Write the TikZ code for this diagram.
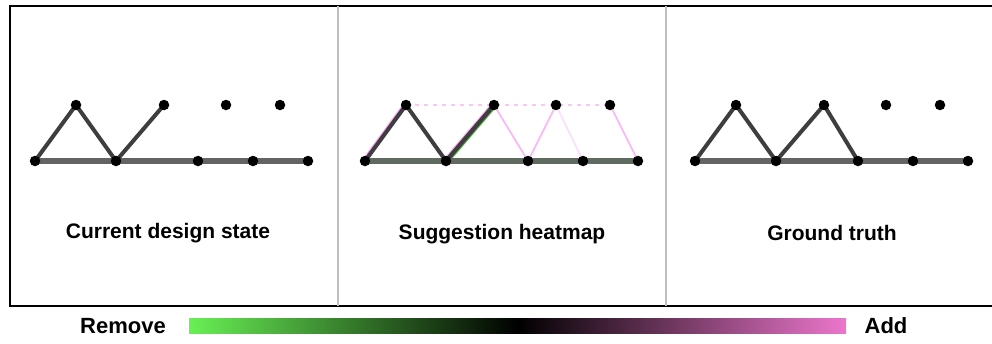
\documentclass[tikz,border=0pt]{standalone}
\usepackage{fontspec}
\setmainfont{Liberation Sans}
\definecolor{gGreen}{RGB}{105,240,85}
\definecolor{gPink}{RGB}{236,118,204}
\definecolor{faintPink}{RGB}{248,185,244}
\definecolor{edgeGray}{RGB}{62,62,62}
\definecolor{baseGray}{RGB}{100,100,100}
\begin{document}
\begin{tikzpicture}[x=1pt,y=-1pt,
  dot/.style={circle,fill=black,inner sep=0pt,minimum size=10.5pt},
  baseedge/.style={line width=5.5pt,draw=baseGray},
  diagedge/.style={line width=4pt,draw=edgeGray},
  addedge/.style={line width=1.8pt,draw=faintPink},
  addtop/.style={line width=1.8pt,draw=faintPink!80,dash pattern=on 4pt off 5pt},
  panellab/.style={font=\bfseries\fontsize{21}{25}\selectfont,anchor=base,inner sep=0pt},
  barlab/.style={font=\bfseries\fontsize{22}{26}\selectfont,anchor=base,inner sep=0pt},
  divider/.style={draw=black!25,line width=1.2pt}]
\useasboundingbox (0,0) rectangle (992,343);
% frame
\draw[line width=2.5pt] (1000,6) -- (10,6) -- (10,306) -- (1000,306);
\draw[divider] (338,6) -- (338,306);
\draw[divider] (666,6) -- (666,306);
% node positions for all three panels
\foreach \p/\dx in {A/0,B/330,C/660}{
  \foreach \i/\x in {1/35,2/116,3/198,4/253,5/308}
    \coordinate (\p b\i) at ({\x+\dx},161);
  \foreach \i/\x in {1/76,2/164,3/226,4/280}
    \coordinate (\p t\i) at ({\x+\dx},105);
}
% panel A : current design state
\draw[baseedge] (Ab1) -- (Ab5);
\draw[diagedge] (Ab1) -- (At1) -- (Ab2) -- (At2);
% panel B : suggestion heatmap
\draw[addtop] (Bt1) -- (Bt2) -- (Bt3) -- (Bt4);
\draw[addedge] (Bt2) -- (Bb3) -- (Bt3);
\draw[addedge,opacity=0.45] (Bt3) -- (Bb4);
\draw[addedge] (Bt4) -- (Bb5);
\draw[line width=5pt,draw=faintPink!90!magenta,transform canvas={xshift=-0.8pt}] (Bb1) -- (Bt1);
\draw[line width=5pt,draw=faintPink!90!magenta,transform canvas={xshift=-0.8pt}] (Bb2) -- (Bt2);
\draw[line width=5pt,draw=gGreen!70!black,transform canvas={xshift=0.8pt}] (Bb2) -- (Bt2);
\draw[baseedge,draw=baseGray!96!green] (Bb1) -- (Bb5);
\draw[diagedge] (Bb1) -- (Bt1) -- (Bb2) -- (Bt2);
% panel C : ground truth
\draw[baseedge] (Cb1) -- (Cb5);
\draw[diagedge] (Cb1) -- (Ct1) -- (Cb2) -- (Ct2) -- (Cb3);
% dots
\foreach \p in {A,B,C}{
  \foreach \i in {1,...,5} \node[dot] (\p nb\i) at (\p b\i) {};
  \foreach \i in {1,...,4} \node[dot] (\p nt\i) at (\p t\i) {};
}
% labels
\node[panellab] (labA) at (168,238) {Current design state};
\node[panellab] (labB) at (502,239) {Suggestion heatmap};
\node[panellab] (labC) at (832,240) {Ground truth};
% colour bar
\shade[left color=gGreen,right color=black] (189,318) rectangle (518,333);
\shade[left color=black,right color=gPink] (517.5,318) rectangle (846,333);
\node[barlab] (remove) at (123,333) {Remove};
\node[barlab] (add) at (886,333) {Add};
\end{tikzpicture}
\end{document}
